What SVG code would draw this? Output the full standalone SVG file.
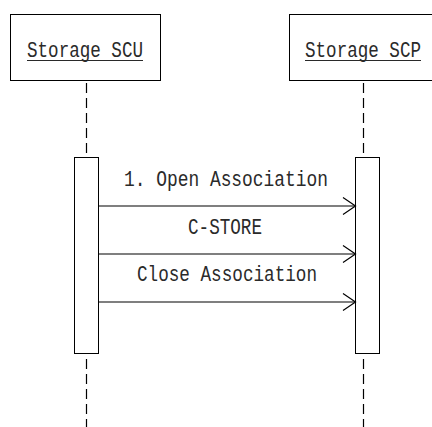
<svg xmlns="http://www.w3.org/2000/svg" width="432" height="427" viewBox="0 0 432 427">
  <style>
    .box { fill: #fff; stroke: #000; stroke-width: 1; }
    .life { stroke: #000; stroke-width: 1.2; stroke-dasharray: 10 5; fill: none; }
    .msg { stroke: #000; stroke-width: 1.2; fill: none; }
    .head { stroke: #000; stroke-width: 1.2; fill: none; }
    .lbl { fill: #2a2a2a; }
  </style>
  <rect width="432" height="427" fill="#fff"/>

  <g id="scu">
    <rect class="box" x="10.5" y="14.5" width="150" height="66"/>
    <text class="lbl" font-family="Liberation Mono, monospace" font-size="22" x="27" y="57" textLength="116" lengthAdjust="spacingAndGlyphs">Storage SCU</text>
    <line x1="27" y1="60.5" x2="143" y2="60.5" stroke="#2a2a2a" stroke-width="1"/>
    <line class="life" x1="86.5" y1="83" x2="86.5" y2="158"/>
    <rect class="box" x="74.5" y="157.5" width="24" height="196"/>
    <line class="life" x1="86.5" y1="359" x2="86.5" y2="427"/>
  </g>

  <g id="scp">
    <rect class="box" x="289.5" y="14.5" width="150" height="66"/>
    <text class="lbl" font-family="Liberation Mono, monospace" font-size="22" x="305" y="57" textLength="116" lengthAdjust="spacingAndGlyphs">Storage SCP</text>
    <line x1="305" y1="60.5" x2="421" y2="60.5" stroke="#2a2a2a" stroke-width="1"/>
    <line class="life" x1="363.5" y1="83" x2="363.5" y2="158"/>
    <rect class="box" x="355.5" y="157.5" width="24" height="196"/>
    <line class="life" x1="363.5" y1="359" x2="363.5" y2="427"/>
  </g>

  <g id="connectors">
    <line class="msg" x1="98.5" y1="206" x2="355.5" y2="206"/>
    <polyline class="head" points="343,197.5 355.5,206 343,214.5"/>
    <text class="lbl" font-family="Liberation Mono, monospace" font-size="22" x="124" y="186" textLength="204" lengthAdjust="spacingAndGlyphs">1. Open Association</text>

    <line class="msg" x1="98.5" y1="254" x2="355.5" y2="254"/>
    <polyline class="head" points="343,245.5 355.5,254 343,262.5"/>
    <text class="lbl" font-family="Liberation Mono, monospace" font-size="22" x="188" y="234" textLength="74" lengthAdjust="spacingAndGlyphs">C-STORE</text>

    <line class="msg" x1="98.5" y1="302" x2="355.5" y2="302"/>
    <polyline class="head" points="343,293.5 355.5,302 343,310.5"/>
    <text class="lbl" font-family="Liberation Mono, monospace" font-size="22" x="137" y="281" textLength="180" lengthAdjust="spacingAndGlyphs">Close Association</text>
  </g>
</svg>
